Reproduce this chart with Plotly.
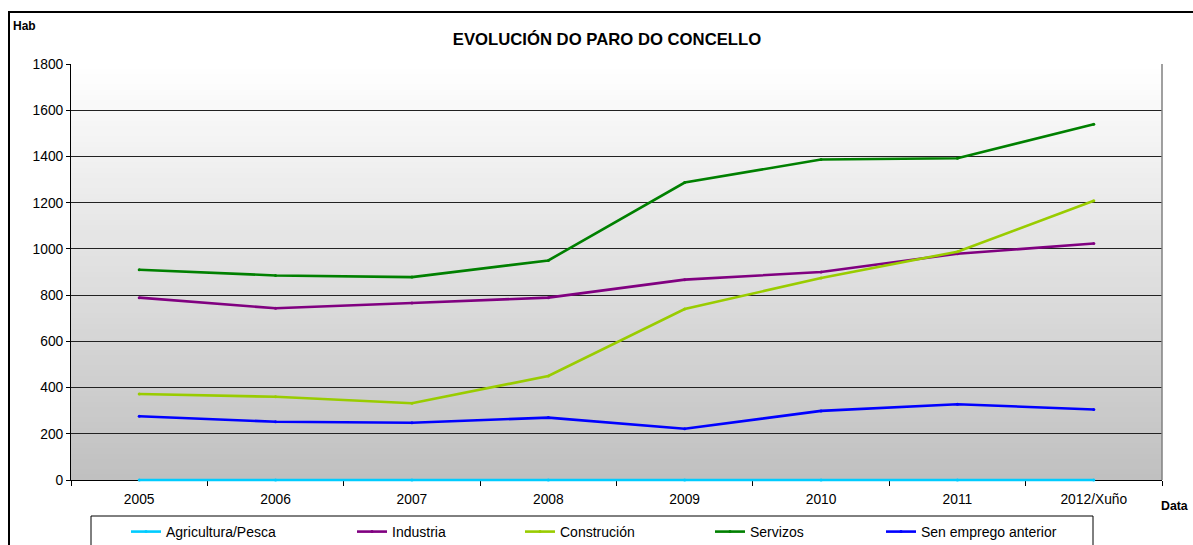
import plotly.graph_objects as go

# Datos do paro por sector
anos = ["2005", "2006", "2007", "2008", "2009", "2010", "2011", "2012/Xuño"]
agricultura = [0, 0, 0, 0, 0, 0, 0, 0]
industria = [789, 743, 766, 789, 867, 900, 979, 1023]
construcion = [372, 360, 332, 450, 740, 874, 988, 1208]
servizos = [910, 885, 878, 950, 1287, 1387, 1392, 1539]
sen_emprego = [276, 252, 248, 270, 222, 299, 328, 305]

series = [
    ("Agricultura/Pesca", agricultura, "#00CCFF"),
    ("Industria", industria, "#800080"),
    ("Construción", construcion, "#99CC00"),
    ("Servizos", servizos, "#008000"),
    ("Sen emprego anterior", sen_emprego, "#0000FF"),
]

W, H = 1193, 545
L, R, T, B = 71, 1162, 64, 480  # plot area (pixels)
EXTRA = 4                         # room below zero so the line on 0 is not clipped
B2 = B + EXTRA
YMAX = 1800
FONT = "Liberation Sans, Arial, sans-serif"


def px_x(p):
    return (p - L) / (R - L)


def px_y(p):
    return (B2 - p) / (B2 - T)


fig = go.Figure()

# legend item positions (pixels)
leg_x = [126, 352, 520, 710, 881]
legend_names = ["legend", "legend2", "legend3", "legend4", "legend5"]

for i, ((name, vals, col), lg) in enumerate(zip(series, legend_names)):
    fig.add_trace(go.Scatter(
        x=anos, y=vals, name=name, mode="lines+markers",
        line=dict(color=col, width=2.6),
        marker=dict(size=3, color=col),
        cliponaxis=False,
        legend=lg,
        yaxis="y2" if i == 0 else "y",
    ))

# background gradient (white at top to grey at bottom)
shapes = []
n = 80
for i in range(n):
    f = i / (n - 1)
    c = int(round(192 + (255 - 192) * f))
    shapes.append(dict(
        type="rect", xref="x domain", yref="y domain", layer="below",
        x0=0, x1=1, y0=i / n, y1=(i + 1) / n + 0.002,
        fillcolor=f"rgb({c},{c},{c})", line=dict(width=0),
    ))

# right border of plot area
shapes.append(dict(type="line", xref="x domain", yref="y domain", x0=1, x1=1, y0=0, y1=1,
                   line=dict(color="#808080", width=1.5)))
# legend box
shapes.append(dict(type="rect", xref="paper", yref="paper",
                   x0=px_x(91), x1=px_x(1093), y0=px_y(560), y1=px_y(516),
                   line=dict(color="#000000", width=1), fillcolor="rgba(0,0,0,0)"))
# outer chart frame
shapes.append(dict(type="rect", xref="paper", yref="paper",
                   x0=px_x(9), x1=px_x(1210), y0=px_y(570), y1=px_y(12),
                   line=dict(color="#000000", width=2), fillcolor="rgba(0,0,0,0)"))

layout_legends = {}
for lg, xp in zip(legend_names, leg_x):
    layout_legends[lg] = dict(
        xref="container", yref="container",
        x=xp / W, y=1 - 532 / H, xanchor="left", yanchor="middle",
        bgcolor="rgba(0,0,0,0)", borderwidth=0,
        font=dict(family=FONT, size=14, color="#000000"),
    )

fig.update_layout(
    width=W, height=H,
    margin=dict(l=L, r=W - R, t=T, b=H - B2, autoexpand=False),
    paper_bgcolor="white",
    plot_bgcolor="rgba(0,0,0,0)",
    font=dict(family=FONT, size=14, color="#000000"),
    title=dict(text="<b>EVOLUCIÓN DO PARO DO CONCELLO</b>",
               x=607 / W, xref="container", xanchor="center",
               y=1 - 39 / H, yref="container", yanchor="middle",
               font=dict(family=FONT, size=16.7, color="#000000")),
    xaxis=dict(
        type="category", range=[-0.5, len(anos) - 0.5],
        showgrid=False, showline=True, linecolor="#000000", linewidth=1,
        ticks="outside", tickson="boundaries", ticklen=5, tickcolor="#000000",
        tickfont=dict(family=FONT, size=13.8), zeroline=False, automargin=False,
        ticklabelstandoff=6, layer="below traces",
    ),
    yaxis=dict(
        domain=[EXTRA / (B2 - T), 1],
        range=[0, YMAX], dtick=200, showgrid=True, gridcolor="#222222", gridwidth=1,
        showline=True, linecolor="#000000", linewidth=1,
        ticks="outside", ticklen=4, tickcolor="#000000",
        tickfont=dict(family=FONT, size=13.8), zeroline=False, automargin=False,
        layer="below traces",
    ),
    yaxis2=dict(
        domain=[0, 1], anchor="x", visible=False,
        range=[-EXTRA * YMAX / (B - T), YMAX],
    ),
    shapes=shapes,
    annotations=[
        dict(text="<b>Hab</b>", xref="paper", yref="paper", x=px_x(11), y=px_y(26),
             xanchor="left", yanchor="middle", showarrow=False,
             font=dict(family=FONT, size=12)),
        dict(text="<b>Data</b>", xref="paper", yref="paper", x=px_x(1159), y=px_y(506),
             xanchor="left", yanchor="middle", showarrow=False,
             font=dict(family=FONT, size=12.3)),
    ],
    showlegend=True,
    **layout_legends,
)

fig.write_html("out.html", config={"displayModeBar": False},
               post_script="document.body.style.margin='0';")
